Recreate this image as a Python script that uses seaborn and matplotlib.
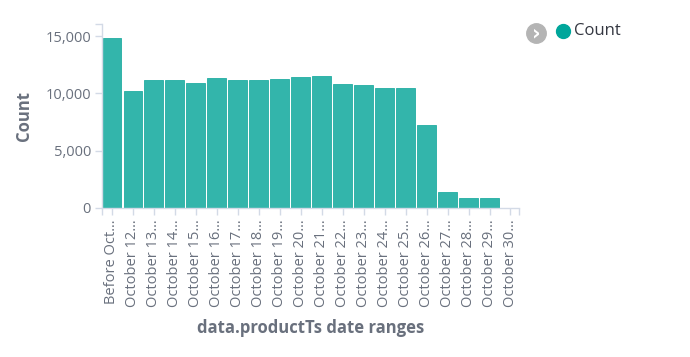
import seaborn as sns
import matplotlib.pyplot as plt
import pandas as pd
from matplotlib.lines import Line2D

# data
labels = ["Before Oct…", "October 12…", "October 13…", "October 14…", "October 15…",
          "October 16…", "October 17…", "October 18…", "October 19…", "October 20…",
          "October 21…", "October 22…", "October 23…", "October 24…", "October 25…",
          "October 26…", "October 27…", "October 28…", "October 29…", "October 30…"]
counts = [14860, 10220, 11130, 11130, 10920, 11360, 11180, 11180, 11270, 11400,
          11480, 10780, 10750, 10480, 10430, 7220, 1360, 890, 830, 0]

df = pd.DataFrame({"range": labels, "Count": counts})

sns.set_style("white")
plt.rcParams["font.family"] = ["Open Sans", "DejaVu Sans"]

tick_gray = "#d3dae6"
text_gray = "#69707d"
teal = "#33b5ab"

fig = plt.figure(figsize=(6.9, 3.57), dpi=100)
ax = fig.add_axes([0.148, 0.4174, 0.604, 0.5154])

sns.barplot(data=df, x="range", y="Count", color=teal, saturation=1,
            width=0.9, edgecolor="#22ada2", linewidth=0.6, ax=ax)

ax.set_xlim(-0.47, 19.4)
ax.set_ylim(0, 16050)
ax.set_yticks([0, 5000, 10000, 15000])
ax.set_yticklabels(["0", "5,000", "10,000", "15,000"])
ax.set_yticks([16050], minor=True)
ax.set_xticks([-0.47, 19.4], minor=True)

for s in ["top", "right"]:
    ax.spines[s].set_visible(False)
for s in ["left", "bottom"]:
    ax.spines[s].set_color(tick_gray)
    ax.spines[s].set_linewidth(1)

ax.tick_params(axis="both", which="both", direction="out", length=5,
               color=tick_gray, width=1, labelcolor=text_gray, bottom=True, left=True)
ax.tick_params(axis="y", labelsize=10.5, pad=3)
ax.tick_params(axis="x", labelsize=10.5, rotation=90, pad=3)

ax.set_xlabel("data.productTs date ranges", fontsize=12, fontweight="bold",
              color=text_gray, labelpad=9)
ax.set_ylabel("Count", fontsize=12, fontweight="bold", color=text_gray, labelpad=9)

# legend: toggle button, dot and label
fig.add_artist(Line2D([535.5 / 690], [1 - 33 / 357], marker="o", markersize=14,
                      color="#b4b4b4", transform=fig.transFigure))
fig.text(536.3 / 690, 1 - 33.5 / 357, "›", color="white", fontsize=15, fontweight="bold",
         ha="center", va="center", family="DejaVu Sans")
fig.add_artist(Line2D([562.5 / 690], [1 - 31 / 357], marker="o", markersize=10,
                      color="#00a69b", transform=fig.transFigure))
fig.text(574 / 690, 1 - 31 / 357, "Count", color="#343741", fontsize=12,
         ha="left", va="center")

fig.savefig("out.png", dpi=100)
